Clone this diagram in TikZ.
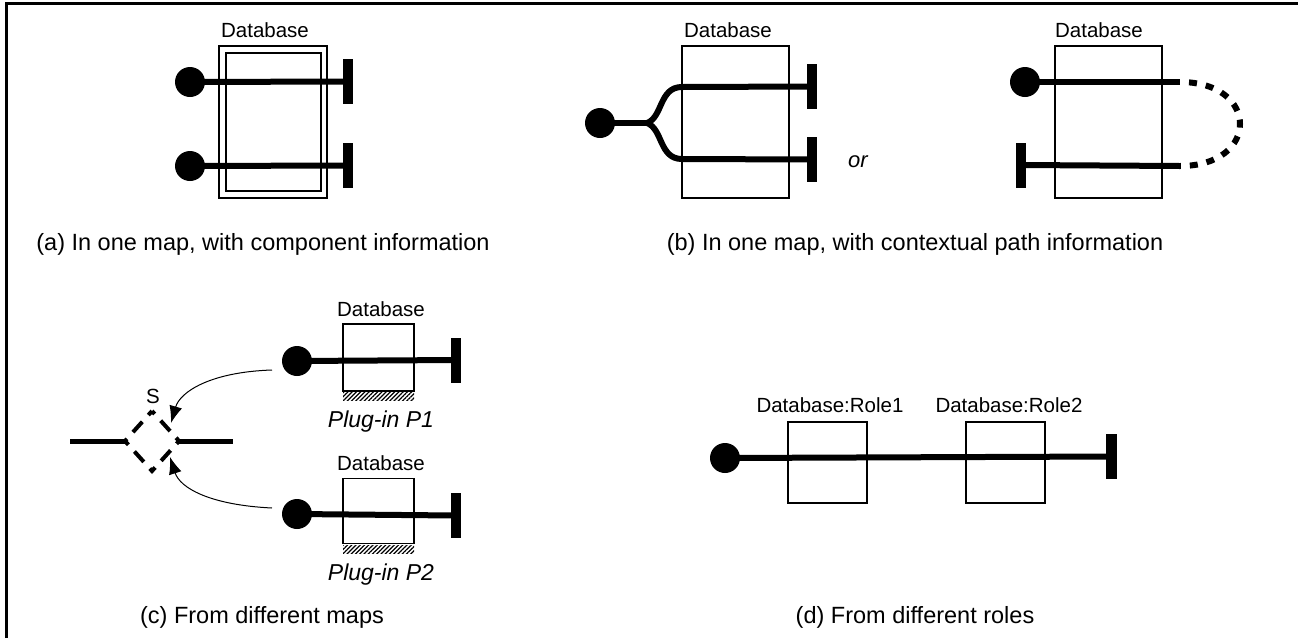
\documentclass[tikz,border=0pt]{standalone}
\usepackage{fontspec}
\setmainfont{Liberation Sans}
\usetikzlibrary{patterns.meta,arrows.meta}
\begin{document}
\begin{tikzpicture}[x=1pt,y=-1pt,
  dot/.style={circle, fill=black, inner sep=0, minimum size=30pt},
  endbar/.style={rectangle, fill=black, inner sep=0, minimum width=10pt, minimum height=45pt},
  wire/.style={line width=6pt},
  comp/.style={draw, line width=1.5pt, rectangle, inner sep=0},
  lbl/.style={font=\fontsize{20.5}{24}\selectfont, anchor=base, inner sep=0},
  captxt/.style={font=\fontsize{23.5}{28}\selectfont, anchor=base, inner sep=0},
  plug/.style={font=\fontsize{23}{27}\selectfont\itshape, anchor=base, inner sep=0},
  hatch/.style={pattern={Lines[angle=45,distance=3pt,line width=1.3pt]}},
  thinarrow/.style={line width=1pt, -{Latex[length=17pt,width=13pt]}}
]
\useasboundingbox (0,0) rectangle (1298,638);
% frame
\draw[line width=2.5pt] (6.5,638) -- (6.5,3.5) -- (1298,3.5);

% ---------- (a) ----------
\node[comp, minimum width=108pt, minimum height=152pt] (aout) at (273,122) {};
\node[comp, minimum width=95pt, minimum height=138pt] (ain) at (273.5,122) {};
\node[lbl] (alab) at (265,37) {Database};
\node[dot] (ad1) at (190,82) {};
\node[dot] (ad2) at (190,166) {};
\node[endbar] (ab1) at (348,81.5) {};
\node[endbar] (ab2) at (348,165.5) {};
\draw[wire] (ad1.center) -- (ab1.center);
\draw[wire] (ad2.center) -- (ab2.center);
\node[captxt] (acap) at (263,250) {(a) In one map, with component information};

% ---------- (b) left ----------
\node[comp, minimum width=107pt, minimum height=152pt] (bbox) at (735.5,122) {};
\node[lbl] (blab) at (728,37) {Database};
\node[dot] (bd) at (600,123) {};
\coordinate (bfork) at (647,123);
\coordinate (bj1) at (682,87);
\coordinate (bj2) at (682,159);
\node[endbar] (bb1) at (812,86.5) {};
\node[endbar] (bb2) at (812,159.5) {};
\draw[wire] (bd.center) -- (bfork);
\draw[wire] (bfork) .. controls (663,117) and (659,87) .. (bj1) -- (bb1.center);
\draw[wire] (bfork) .. controls (663,129) and (659,159) .. (bj2) -- (bb2.center);

\node[font=\fontsize{22}{26}\selectfont\itshape, anchor=base, inner sep=0] (bor) at (858,167) {or};

% ---------- (b) right ----------
\node[comp, minimum width=107pt, minimum height=152pt] (brbox) at (1108.5,122) {};
\node[lbl] (brlab) at (1099,37) {Database};
\node[dot] (brd) at (1025,82) {};
\node[endbar] (brb) at (1021,165) {};
\coordinate (bre1) at (1180,82);
\coordinate (bre2) at (1180,166);
\draw[wire] (brd.center) -- (bre1);
\draw[wire] (brb.center) -- (bre2);
\draw[wire, dash pattern=on 8pt off 9pt, dash phase=8pt] (bre1) .. controls (1260,82) and (1260,166) .. (bre2);

\node[captxt] (bcap) at (915,250) {(b) In one map, with contextual path information};

% ---------- (c) ----------
\node[lbl] (clab1) at (381,316) {Database};
\node[comp, minimum width=71pt, minimum height=67pt] (cbox1) at (378.5,357.5) {};
\fill[hatch] (343,392) rectangle (414,400);
\node[dot] (cd1) at (297,361) {};
\node[endbar] (cb1) at (455.5,360) {};
\draw[wire] (cd1.center) -- (cb1.center);
\node[plug] (cp1) at (381,427) {Plug-in P1};

\node[lbl] (clab2) at (381,470) {Database};
\node[comp, minimum width=71pt, minimum height=65pt] (cbox2) at (378.5,511) {};
\fill[hatch] (343,545) rectangle (414,553);
\node[dot] (cd2) at (297,514) {};
\node[endbar] (cb2) at (455.5,515.5) {};
\draw[wire] (cd2.center) -- (cb2.center);
\node[plug] (cp2) at (381,580) {Plug-in P2};

% stub S
\coordinate (dtop) at (152,411);
\coordinate (dright) at (179,441);
\coordinate (dbot) at (152,471);
\coordinate (dleft) at (125,441);
\draw[line width=4pt, dash pattern=on 8pt off 9pt on 14pt off 9pt, dash phase=4pt]
  (dtop) -- (dright) -- (dbot) -- (dleft) -- cycle;
\coordinate (sl) at (70,441);
\coordinate (sr) at (233,441);
\draw[line width=5pt] (sl) -- (dleft);
\draw[line width=5pt] (dright) -- (sr);
\node[lbl] (slab) at (153,403) {S};

\coordinate (a1s) at (272,370);
\coordinate (a1t) at (171,423);
\coordinate (a2s) at (272,508);
\coordinate (a2t) at (170,457);
\draw[thinarrow] (a1s) .. controls (210,372) and (180,392) .. (a1t);
\draw[thinarrow] (a2s) .. controls (210,505) and (180,488) .. (a2t);

\node[captxt] (ccap) at (262,623) {(c) From different maps};

% ---------- (d) ----------
\node[comp, minimum width=79pt, minimum height=81pt] (dbox1) at (827.5,462.5) {};
\node[comp, minimum width=79pt, minimum height=81pt] (dbox2) at (1005.5,462.5) {};
\node[lbl] (dlab1) at (830,412) {Database:Role1};
\node[lbl] (dlab2) at (1009,412) {Database:Role2};
\node[dot] (dd) at (725,458) {};
\node[endbar, minimum width=11pt] (db) at (1111.5,456.5) {};
\draw[wire] (dd.center) -- (db.center);

\node[captxt] (dcap) at (915,623) {(d) From different roles};
\end{tikzpicture}
\end{document}
